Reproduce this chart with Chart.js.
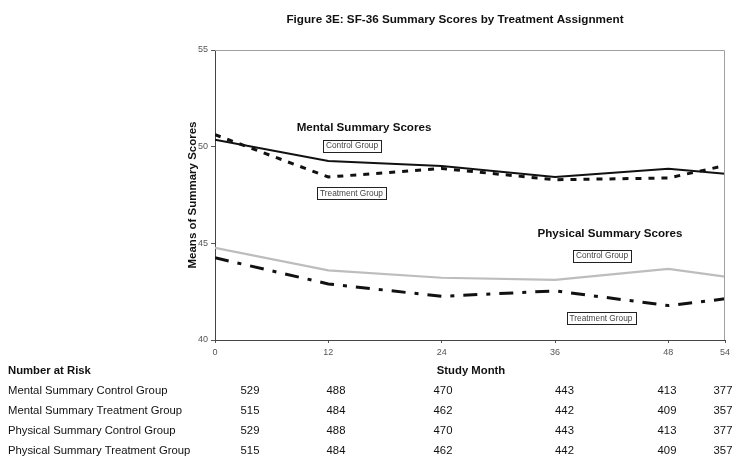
<!DOCTYPE html>
<html>
<head>
<meta charset="utf-8">
<script src="https://cdn.jsdelivr.net/npm/chart.js@4"></script>
<style>
  html, body { margin: 0; padding: 0; background: #fff; }
  #wrap { position: relative; width: 739px; height: 468px; }
</style>
</head>
<body>
<div id="wrap"><canvas id="c" width="739" height="468"></canvas></div>
<script>
// ---- data ----
const months = [0, 12, 24, 36, 48, 54];
const mentalControl     = [50.36, 49.26, 49.00, 48.43, 48.86, 48.60];
const mentalTreatment   = [50.62, 48.43, 48.87, 48.29, 48.38, 49.02];
const physicalControl   = [44.77, 43.60, 43.22, 43.11, 43.68, 43.28];
const physicalTreatment = [44.25, 42.90, 42.26, 42.54, 41.78, 42.13];
const yTicks = [40, 45, 50, 55];

const riskRowLabels = [
  "Mental Summary Control Group",
  "Mental Summary Treatment Group",
  "Physical Summary Control Group",
  "Physical Summary Treatment Group"
];
const riskMentalControl     = [529, 488, 470, 443, 413, 377];
const riskMentalTreatment   = [515, 484, 462, 442, 409, 357];
const riskPhysicalControl   = [529, 488, 470, 443, 413, 377];
const riskPhysicalTreatment = [515, 484, 462, 442, 409, 357];

const titleText = "Figure 3E: SF-36 Summary Scores by Treatment Assignment";
const yTitle = "Means of Summary Scores";
const xTitle = "Study Month";
const riskTitle = "Number at Risk";

// ---- layout constants ----
const riskColX = [250, 336, 443, 564.5, 667, 723];
const riskRowY = [391, 411, 431, 451];
const FONT = "'Liberation Sans', Arial, sans-serif";

function pts(vals) { return months.map((m, i) => ({ x: m, y: vals[i] })); }

const textPlugin = {
  id: 'texts',
  afterDraw(chart) {
    const ctx = chart.ctx;
    const a = chart.chartArea;
    ctx.save();
    // frame top & right
    ctx.strokeStyle = '#a0a0a0';
    ctx.lineWidth = 1;
    ctx.beginPath();
    ctx.moveTo(a.left, a.top + 0.5);
    ctx.lineTo(a.right - 0.5, a.top + 0.5);
    ctx.lineTo(a.right - 0.5, a.bottom);
    ctx.stroke();

    ctx.fillStyle = '#111';
    ctx.textBaseline = 'middle';
    // title
    ctx.font = "bold 11.7px " + FONT;
    ctx.textAlign = 'center';
    ctx.fillText(titleText, 455, 20);
    // y title
    ctx.save();
    ctx.translate(193, (a.top + a.bottom) / 2);
    ctx.rotate(-Math.PI / 2);
    ctx.font = "bold 11.5px " + FONT;
    ctx.fillText(yTitle, 0, 0);
    ctx.restore();

    // annotations
    ctx.font = "bold 11.6px " + FONT;
    ctx.fillText("Mental Summary Scores", 364, 128);
    ctx.fillText("Physical Summary Scores", 610, 234);

    function box(label, cx, cy) {
      ctx.font = "8.3px " + FONT;
      const w = ctx.measureText(label).width + 6;
      const h = 12;
      ctx.fillStyle = '#fff';
      ctx.fillRect(cx - w / 2, cy - h / 2, w, h);
      ctx.strokeStyle = '#222';
      ctx.lineWidth = 1;
      ctx.strokeRect(Math.round(cx - w / 2) + 0.5, Math.round(cy - h / 2) + 0.5, Math.round(w), h);
      ctx.fillStyle = '#444';
      ctx.fillText(label, cx, cy + 0.5);
      ctx.fillStyle = '#111';
    }
    box("Control Group", 352, 145.5);
    box("Treatment Group", 351.5, 193);
    box("Control Group", 602, 255.5);
    box("Treatment Group", 601, 318);

    // table
    ctx.textAlign = 'left';
    ctx.font = "bold 11.3px " + FONT;
    ctx.fillText(riskTitle, 8, 371);
    ctx.textAlign = 'center';
    ctx.fillText(xTitle, 471, 371);
    ctx.font = "11.3px " + FONT;
    const rows = [riskMentalControl, riskMentalTreatment, riskPhysicalControl, riskPhysicalTreatment];
    rows.forEach((row, r) => {
      ctx.textAlign = 'left';
      ctx.fillText(riskRowLabels[r], 8, riskRowY[r]);
      ctx.textAlign = 'center';
      row.forEach((v, i) => ctx.fillText(String(v), riskColX[i], riskRowY[r]));
    });
    ctx.restore();
  }
};

new Chart(document.getElementById('c'), {
  type: 'line',
  data: {
    datasets: [
      { label: 'Mental Control', data: pts(mentalControl), borderColor: '#111', borderWidth: 2, pointRadius: 0, tension: 0 },
      { label: 'Mental Treatment', data: pts(mentalTreatment), borderColor: '#111', borderWidth: 3, borderDash: [6, 7], pointRadius: 0, tension: 0 },
      { label: 'Physical Control', data: pts(physicalControl), borderColor: '#bdbdbd', borderWidth: 2.2, pointRadius: 0, tension: 0 },
      { label: 'Physical Treatment', data: pts(physicalTreatment), borderColor: '#111', borderWidth: 3, borderDash: [14, 9, 4, 9], pointRadius: 0, tension: 0 }
    ]
  },
  options: {
    responsive: false,
    animation: false,
    devicePixelRatio: 1,
    layout: { padding: { top: 50, right: 14, left: 0, bottom: 0 } },
    plugins: { legend: { display: false }, title: { display: false }, tooltip: { enabled: false } },
    scales: {
      x: {
        type: 'linear', min: 0, max: 54,
        afterBuildTicks(s) { s.ticks = months.map(v => ({ value: v })); },
        afterFit(s) { s.height = 128; },
        grid: { drawOnChartArea: false, drawTicks: true, tickLength: 3, color: '#555' },
        border: { color: '#444', width: 1 },
        ticks: { color: '#555', font: { size: 9, family: FONT }, padding: 4, autoSkip: false, maxRotation: 0 }
      },
      y: {
        min: 40, max: 55,
        afterBuildTicks(s) { s.ticks = yTicks.map(v => ({ value: v })); },
        afterFit(s) { s.width = 215; },
        grid: { drawOnChartArea: false, drawTicks: true, tickLength: 4, color: '#555' },
        border: { color: '#444', width: 1 },
        ticks: { color: '#555', font: { size: 9, family: FONT }, padding: 3 }
      }
    }
  },
  plugins: [textPlugin]
});
</script>
</body>
</html>
